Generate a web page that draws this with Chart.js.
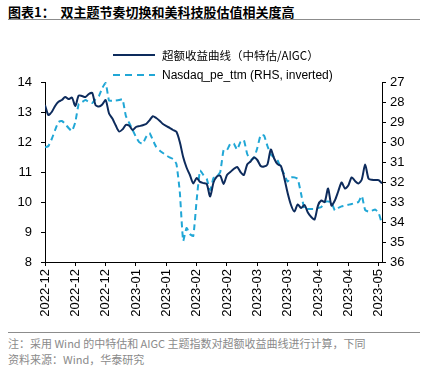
<!DOCTYPE html>
<html>
<head>
<meta charset="utf-8">
<script src="https://cdn.jsdelivr.net/npm/chart.js@4/dist/chart.umd.min.js"></script>
<style>
  html, body { margin: 0; padding: 0; background: #fff; }
  body { width: 422px; height: 367px; position: relative; overflow: hidden; font-family: "Liberation Sans", Arial, sans-serif; }
  #title { position: absolute; left: 8px; top: 2px; font: bold 13px "Noto Sans CJK SC", sans-serif; color: #000; white-space: nowrap; }
  .rule { position: absolute; left: 8px; width: 412px; height: 0; border-top: 1px solid #8c8c8c; }
  #legend { position: absolute; left: 113px; top: 45px; font-size: 12px; color: #000; }
  #legend .item { height: 20px; display: flex; align-items: center; white-space: nowrap; }
  #legend svg { margin-right: 7px; }
  #legend .cn { font-family: "Noto Sans CJK SC", sans-serif; font-size: 11.5px; }
  #chartBox { position: absolute; left: 0; top: 40px; width: 422px; height: 290px; }
  #notes { position: absolute; left: 8px; top: 335px; font: 11px "Noto Sans CJK SC", sans-serif; color: #8a8a8a; line-height: 16px; white-space: nowrap; }
</style>
</head>
<body>
<div id="title">图表1：&nbsp;&nbsp;双主题节奏切换和美科技股估值相关度高</div>
<div class="rule" style="top:19px"></div>
<div id="chartBox"><canvas id="chart"></canvas></div>
<div id="legend">
  <div class="item"><svg width="42" height="4"><line x1="0" y1="2" x2="42" y2="2" stroke="#0d2b5c" stroke-width="2"/></svg><span class="cn">超额收益曲线（中特估/AIGC）</span></div>
  <div class="item"><svg width="42" height="4"><line x1="0" y1="2" x2="42" y2="2" stroke="#21a7d6" stroke-width="2" stroke-dasharray="7,5"/></svg><span>Nasdaq_pe_ttm (RHS, inverted)</span></div>
</div>
<div class="rule" style="top:332px"></div>
<div id="notes">注：采用 Wind 的中特估和 AIGC 主题指数对超额收益曲线进行计算，下同<br>资料来源：Wind，华泰研究</div>

<script>
// excess return curve (left axis)
const excessReturn = [
  13.23, 12.9, 13.0, 13.2, 13.34, 13.4, 13.5, 13.43, 13.48, 13.2,
  13.55, 13.53, 13.5, 13.6, 13.64, 13.23, 13.18, 13.25, 13.4, 12.95,
  12.78, 12.55, 12.35, 12.42, 12.57, 12.54, 12.4, 12.5, 12.53, 12.56,
  12.6, 12.72, 12.86, 12.8, 12.71, 12.6, 12.53, 12.47, 12.4, 12.34,
  12.0, 11.5, 11.15, 10.9, 10.62, 10.8, 10.67, 10.63, 10.6, 10.18,
  10.65, 10.85, 10.88, 10.6, 10.9, 11.0, 11.1, 11.17, 11.0, 10.9,
  11.25, 11.35, 11.48, 11.4, 11.2, 11.18, 11.25, 11.75, 11.45, 11.26,
  11.2, 10.8, 10.3, 9.9, 9.68, 9.92, 9.8, 9.9, 9.65, 9.5,
  9.42, 9.88, 10.05, 10.0, 10.45, 9.88, 10.05, 10.35, 10.65, 10.45,
  10.55, 10.82, 10.7, 10.62, 10.75, 11.25, 10.78, 10.74, 10.73, 10.73,
  10.62
];

// Nasdaq pe ttm (right axis, inverted)
const nasdaqPe = [
  30.27, 30.2, 29.85, 29.4, 29.0, 28.95, 29.1, 29.3, 29.45, 29.0,
  28.1, 28.0, 27.9, 28.0, 28.05, 27.85, 27.7, 27.3, 27.05, 27.93,
  27.93, 27.92, 27.9, 27.86, 28.7, 29.05, 29.4, 29.75, 30.02, 30.08,
  29.75, 29.55, 29.9, 30.25, 30.42, 30.55, 30.67, 30.77, 30.85, 31.1,
  32.5, 34.95, 34.3, 34.6, 34.7, 32.9, 31.43, 31.65, 31.85, 32.4,
  31.8, 31.72, 31.5, 30.4, 30.4, 30.08, 30.08, 30.38, 30.0, 29.9,
  30.6, 30.88, 30.8, 30.3, 29.65, 29.68, 30.2, 30.62, 30.78, 30.92,
  31.3, 31.62, 31.98, 31.77, 31.77, 31.85, 32.6, 33.35, 33.35, 33.35,
  33.35, 33.3, 33.25, 33.0, 32.97, 33.02, 33.42, 33.3, 33.22, 33.18,
  33.14, 33.1, 33.05, 33.0, 32.7, 33.4, 33.48, 33.43, 33.38, 33.55,
  34.1
];

// x tick labels, one every tickEvery points
const xTickLabels = ['2022-12', '2022-12', '2022-12', '2023-01', '2023-01', '2023-02',
  '2023-02', '2023-03', '2023-03', '2023-04', '2023-04', '2023-05'];
const tickEvery = 9;

const leftTicks = { min: 8, max: 14 };
const rightTicks = { min: 27, max: 36 };

document.addEventListener("DOMContentLoaded", function () {
  const ctx = document.getElementById("chart").getContext("2d");
  const tickFont = { family: "'Liberation Sans', Arial, sans-serif", size: 13 };

  new Chart(ctx, {
    type: 'line',
    data: {
      datasets: [
        {
          label: '超额收益曲线（中特估/AIGC）',
          data: excessReturn.map((v, i) => ({ x: i, y: v })),
          borderColor: '#0d2b5c',
          borderWidth: 2,
          pointRadius: 0,
          tension: 0.25,
          yAxisID: 'y'
        },
        {
          label: 'Nasdaq_pe_ttm (RHS, inverted)',
          data: nasdaqPe.map((v, i) => ({ x: i, y: v })),
          borderColor: '#21a7d6',
          borderWidth: 2,
          borderDash: [6, 4],
          pointRadius: 0,
          tension: 0.15,
          yAxisID: 'y1'
        }
      ]
    },
    options: {
      responsive: true,
      maintainAspectRatio: false,
      animation: false,
      layout: { padding: { top: 42, left: 0, right: 0, bottom: 0 } },
      plugins: {
        legend: { display: false },
        tooltip: { enabled: false }
      },
      scales: {
        x: {
          type: 'linear',
          min: 0,
          max: excessReturn.length - 1,
          afterBuildTicks: scale => {
            scale.ticks = xTickLabels.map((_, k) => ({ value: k * tickEvery }));
          },
          afterFit: scale => { scale.height = 68; },
          border: { color: '#000', width: 1 },
          grid: { drawOnChartArea: false, tickLength: 4, color: '#000' },
          ticks: {
            autoSkip: false,
            minRotation: 90,
            maxRotation: 90,
            padding: 3,
            color: '#000',
            font: tickFont,
            callback: (value, index) => xTickLabels[index]
          }
        },
        y: {
          position: 'left',
          min: leftTicks.min,
          max: leftTicks.max,
          afterFit: scale => { scale.width = 45; },
          border: { color: '#000', width: 1 },
          grid: { drawOnChartArea: false, tickLength: 4, color: '#000' },
          ticks: { stepSize: 1, padding: 9, color: '#000', font: tickFont }
        },
        y1: {
          position: 'right',
          reverse: true,
          min: rightTicks.min,
          max: rightTicks.max,
          afterFit: scale => { scale.width = 40; },
          border: { color: '#000', width: 1 },
          grid: { drawOnChartArea: false, tickLength: 4, color: '#000' },
          ticks: { stepSize: 1, padding: 4, color: '#000', font: tickFont }
        }
      }
    }
  });
});
</script>
</body>
</html>
